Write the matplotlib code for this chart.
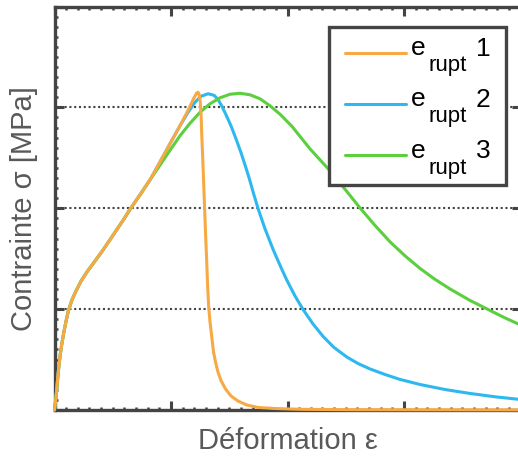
import numpy as np
import matplotlib
matplotlib.use("Agg")
import matplotlib.pyplot as plt
from matplotlib.ticker import MultipleLocator

plt.rcParams['font.family'] = ['Liberation Sans', 'DejaVu Sans']

# rising part shared by the three curves
eps_common = [0.0, 0.0103, 0.0197, 0.0283, 0.0378, 0.0489, 0.0627, 0.079, 0.0979, 0.1185, 0.150,
              0.185, 0.227, 0.279, 0.339, 0.408, 0.476, 0.545, 0.597, 0.648, 0.734, 0.820]
sig_common = [0.0, 0.099, 0.208, 0.327, 0.437, 0.546, 0.655, 0.764, 0.873, 0.982, 1.091,
              1.181, 1.275, 1.369, 1.463, 1.572, 1.687, 1.806, 1.895, 1.989, 2.133, 2.282]

# e_rupt 1
eps1 = [0.906, 0.991, 1.077, 1.129, 1.163, 1.193, 1.219, 1.232, 1.243, 1.251, 1.258, 1.264, 1.273,
        1.281, 1.289, 1.297, 1.306, 1.314, 1.324, 1.335, 1.349, 1.365, 1.382, 1.403, 1.429, 1.468,
        1.515, 1.575, 1.650, 1.747, 1.893, 2.107, 2.536, 4.0]
sig1 = [2.460, 2.639, 2.817, 2.932, 3.011, 3.085, 3.140, 3.150, 3.125, 3.056, 2.927, 2.728, 2.480,
        2.232, 1.984, 1.736, 1.488, 1.240, 1.012, 0.873, 0.734, 0.575, 0.476, 0.377, 0.293, 0.208,
        0.139, 0.089, 0.050, 0.025, 0.015, 0.007, 0.003, 0.001]

# e_rupt 2
eps2 = [0.906, 0.991, 1.077, 1.146, 1.206, 1.258, 1.318, 1.369, 1.403, 1.435, 1.472, 1.515, 1.558,
        1.601, 1.635, 1.670, 1.708, 1.749, 1.807, 1.878, 1.936, 1.993, 2.064, 2.136, 2.219, 2.307,
        2.399, 2.508, 2.605, 2.708, 2.837, 2.966, 3.137, 3.352, 3.567, 3.781, 4.0]
sig2 = [2.460, 2.639, 2.817, 2.951, 3.051, 3.110, 3.135, 3.120, 3.080, 3.016, 2.927, 2.817, 2.688,
        2.550, 2.431, 2.302, 2.148, 1.991, 1.796, 1.587, 1.434, 1.290, 1.131, 0.992, 0.853, 0.727,
        0.620, 0.526, 0.461, 0.407, 0.352, 0.303, 0.253, 0.203, 0.164, 0.131, 0.104]

# e_rupt 3
eps3 = [0.906, 0.991, 1.077, 1.163, 1.249, 1.335, 1.421, 1.506, 1.592, 1.678, 1.764, 1.850, 1.936,
        2.039, 2.193, 2.365, 2.494, 2.622, 2.751, 2.880, 3.009, 3.137, 3.266, 3.395, 3.567, 3.738,
        3.867, 4.0]
sig3 = [2.428, 2.574, 2.718, 2.842, 2.951, 3.036, 3.095, 3.130, 3.140, 3.125, 3.085, 3.016, 2.932,
        2.811, 2.589, 2.371, 2.188, 2.004, 1.830, 1.667, 1.528, 1.404, 1.295, 1.200, 1.086, 0.987,
        0.913, 0.843]

names = ['1', '2', '3']
colors = ['#F7A944', '#2DB8F0', '#5BCF3D']

dark = '#444444'
W, H = 518, 457
fig = plt.figure(figsize=(W / 100, H / 100), dpi=100)
# the right edge of the frame lies just outside the picture, as in the original
ax = fig.add_axes([54.5 / W, (H - 410) / H, 466 / W, 403.5 / H])

curves = [(eps_common + eps1, sig_common + sig1),
          (eps_common + eps2, sig_common + sig2),
          (eps_common + eps3, sig_common + sig3)]
zo = [5, 3, 4]
lines = []
for (x, y), c, z in zip(curves, colors, zo):
    ln, = ax.plot(x, y, color=c, lw=2.2, zorder=z, clip_on=False,
                  solid_joinstyle='round', solid_capstyle='round')
    lines.append(ln)

ax.set_xlim(0, 4)
ax.set_ylim(0, 4)
ax.xaxis.set_major_locator(MultipleLocator(1))
ax.xaxis.set_minor_locator(MultipleLocator(0.1))
ax.yaxis.set_major_locator(MultipleLocator(1))
ax.yaxis.set_minor_locator(MultipleLocator(0.1))
ax.tick_params(which='both', direction='in', top=True, right=True,
               labelbottom=False, labelleft=False, color=dark)
ax.tick_params(which='major', length=6.5, width=2.2)
ax.tick_params(which='minor', length=2.4, width=1.8)
for s in ax.spines.values():
    s.set_linewidth(2.4)
    s.set_color(dark)

ax.yaxis.grid(True, which='major', color=dark, linestyle=(0, (1, 1.3)), linewidth=1.5)

ax.set_xlabel('Déformation ε', fontsize=21, color='#595959', labelpad=12)
ax.set_ylabel('Contrainte σ [MPa]', fontsize=21, color='#595959', labelpad=12)

# legend: frame + line handles; the labels only reserve room, "e_rupt n" is written by hand below
fs = 19
leg = ax.legend(lines, ['e'] * 3, loc='upper left',
                bbox_to_anchor=(329 / W, 1 - 188 / H, 177 / W, 161 / H),
                bbox_transform=fig.transFigure, mode='expand', borderaxespad=0,
                fontsize=fs, fancybox=False, framealpha=1, edgecolor=dark,
                handlelength=2.31, handletextpad=0.23, labelspacing=1.03,
                borderpad=0.606)
leg.get_frame().set_linewidth(2.4)
leg.set_zorder(10)
for t in leg.get_texts():
    t.set_visible(False)

fig.canvas.draw()
r = fig.canvas.get_renderer()
for hnd, n in zip(leg.legend_handles, names):
    bb = hnd.get_window_extent(r)
    yh = (bb.y0 + bb.y1) / 2
    xe = bb.x1
    fig.text((xe + 5) / W, (yh - 2.5) / H, 'e', fontsize=fs, color='black',
             va='baseline', ha='left', zorder=11)
    fig.text((xe + 22.5) / W, (yh - 18.5) / H, 'rupt', fontsize=16, color='black',
             va='baseline', ha='left', zorder=11)
    fig.text((xe + 70) / W, (yh - 3) / H, n, fontsize=fs, color='black',
             va='baseline', ha='left', zorder=11)

fig.savefig('out.png', dpi=100)
